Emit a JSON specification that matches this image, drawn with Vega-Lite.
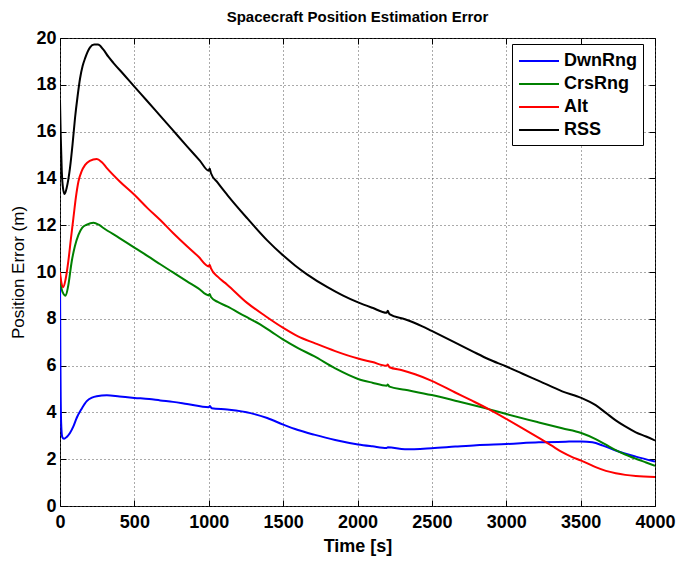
{
  "$schema": "https://vega.github.io/schema/vega-lite/v6.json",
  "width": 595,
  "height": 468,
  "autosize": {"type": "none"},
  "padding": {"left": 60, "top": 38, "right": 23, "bottom": 57},
  "title": {"text": "Spacecraft Position Estimation Error", "font": "Liberation Sans", "fontSize": 15, "fontWeight": "bold", "color": "black", "anchor": "middle", "offset": 4},
  "config": {
    "view": {"stroke": "black", "strokeWidth": 1},
    "font": "Liberation Sans",
    "axis": {
      "domainColor": "black", "tickColor": "black", "labelColor": "black", "titleColor": "black",
      "labelFont": "Liberation Sans", "labelFontSize": 18, "labelFontWeight": "bold",
      "titleFont": "Liberation Sans", "labelFlush": false,
      "gridColor": "#555", "gridDash": [1, 3], "gridOpacity": 1, "gridWidth": 1,
      "tickSize": -6, "tickWidth": 1
    },
    "legend": {
      "orient": "none", "legendX": 452, "legendY": 6,
      "strokeColor": "black", "fillColor": "white", "padding": 6,
      "symbolType": "M-2,0H2", "symbolSize": 400, "symbolStrokeWidth": 2, "symbolOffset": 10,
      "labelFont": "Liberation Sans", "labelFontSize": 18, "labelFontWeight": "bold", "labelColor": "black",
      "labelOffset": 14, "rowPadding": 3, "offset": 0
    }
  },
  "data": {"values": [
    {"s":"DwnRng","t":0,"v":9.8},{"s":"DwnRng","t":3,"v":6.0},{"s":"DwnRng","t":8,"v":3.5},{"s":"DwnRng","t":15,"v":2.95},{"s":"DwnRng","t":27,"v":2.87},{"s":"DwnRng","t":45,"v":2.95},{"s":"DwnRng","t":67,"v":3.12},{"s":"DwnRng","t":90,"v":3.4},{"s":"DwnRng","t":112,"v":3.76},{"s":"DwnRng","t":145,"v":4.15},{"s":"DwnRng","t":180,"v":4.48},{"s":"DwnRng","t":215,"v":4.63},{"s":"DwnRng","t":247,"v":4.69},{"s":"DwnRng","t":315,"v":4.73},{"s":"DwnRng","t":400,"v":4.68},{"s":"DwnRng","t":500,"v":4.62},{"s":"DwnRng","t":600,"v":4.57},{"s":"DwnRng","t":674,"v":4.51},{"s":"DwnRng","t":760,"v":4.45},{"s":"DwnRng","t":854,"v":4.36},{"s":"DwnRng","t":1000,"v":4.22},{"s":"DwnRng","t":1008,"v":4.27},{"s":"DwnRng","t":1020,"v":4.18},{"s":"DwnRng","t":1124,"v":4.12},{"s":"DwnRng","t":1281,"v":3.97},{"s":"DwnRng","t":1393,"v":3.76},{"s":"DwnRng","t":1501,"v":3.48},{"s":"DwnRng","t":1600,"v":3.25},{"s":"DwnRng","t":1708,"v":3.05},{"s":"DwnRng","t":1850,"v":2.82},{"s":"DwnRng","t":2004,"v":2.63},{"s":"DwnRng","t":2100,"v":2.55},{"s":"DwnRng","t":2196,"v":2.48},{"s":"DwnRng","t":2204,"v":2.51},{"s":"DwnRng","t":2319,"v":2.42},{"s":"DwnRng","t":2499,"v":2.47},{"s":"DwnRng","t":2657,"v":2.54},{"s":"DwnRng","t":2800,"v":2.6},{"s":"DwnRng","t":3001,"v":2.65},{"s":"DwnRng","t":3219,"v":2.72},{"s":"DwnRng","t":3400,"v":2.75},{"s":"DwnRng","t":3504,"v":2.76},{"s":"DwnRng","t":3579,"v":2.72},{"s":"DwnRng","t":3650,"v":2.58},{"s":"DwnRng","t":3736,"v":2.37},{"s":"DwnRng","t":3871,"v":2.11},{"s":"DwnRng","t":4000,"v":1.9},
    {"s":"CrsRng","t":0,"v":9.8},{"s":"CrsRng","t":10,"v":9.3},{"s":"CrsRng","t":25,"v":9.05},{"s":"CrsRng","t":38,"v":8.99},{"s":"CrsRng","t":55,"v":9.4},{"s":"CrsRng","t":79,"v":10.46},{"s":"CrsRng","t":100,"v":11.1},{"s":"CrsRng","t":124,"v":11.59},{"s":"CrsRng","t":150,"v":11.9},{"s":"CrsRng","t":180,"v":12.02},{"s":"CrsRng","t":225,"v":12.1},{"s":"CrsRng","t":260,"v":12.02},{"s":"CrsRng","t":292,"v":11.88},{"s":"CrsRng","t":400,"v":11.45},{"s":"CrsRng","t":500,"v":11.04},{"s":"CrsRng","t":590,"v":10.68},{"s":"CrsRng","t":674,"v":10.33},{"s":"CrsRng","t":760,"v":9.98},{"s":"CrsRng","t":854,"v":9.6},{"s":"CrsRng","t":930,"v":9.3},{"s":"CrsRng","t":1000,"v":9.0},{"s":"CrsRng","t":1006,"v":9.06},{"s":"CrsRng","t":1015,"v":8.93},{"s":"CrsRng","t":1060,"v":8.72},{"s":"CrsRng","t":1124,"v":8.53},{"s":"CrsRng","t":1240,"v":8.12},{"s":"CrsRng","t":1348,"v":7.75},{"s":"CrsRng","t":1420,"v":7.45},{"s":"CrsRng","t":1501,"v":7.11},{"s":"CrsRng","t":1600,"v":6.75},{"s":"CrsRng","t":1708,"v":6.4},{"s":"CrsRng","t":1850,"v":5.88},{"s":"CrsRng","t":2004,"v":5.43},{"s":"CrsRng","t":2100,"v":5.27},{"s":"CrsRng","t":2196,"v":5.14},{"s":"CrsRng","t":2203,"v":5.19},{"s":"CrsRng","t":2215,"v":5.1},{"s":"CrsRng","t":2319,"v":4.97},{"s":"CrsRng","t":2499,"v":4.74},{"s":"CrsRng","t":2657,"v":4.5},{"s":"CrsRng","t":2882,"v":4.14},{"s":"CrsRng","t":3001,"v":3.93},{"s":"CrsRng","t":3219,"v":3.57},{"s":"CrsRng","t":3376,"v":3.32},{"s":"CrsRng","t":3504,"v":3.12},{"s":"CrsRng","t":3601,"v":2.86},{"s":"CrsRng","t":3670,"v":2.62},{"s":"CrsRng","t":3736,"v":2.39},{"s":"CrsRng","t":3800,"v":2.2},{"s":"CrsRng","t":3871,"v":2.02},{"s":"CrsRng","t":3940,"v":1.86},{"s":"CrsRng","t":4000,"v":1.72},
    {"s":"Alt","t":0,"v":10.0},{"s":"Alt","t":8,"v":9.6},{"s":"Alt","t":22,"v":9.35},{"s":"Alt","t":38,"v":9.7},{"s":"Alt","t":56,"v":10.46},{"s":"Alt","t":73,"v":11.4},{"s":"Alt","t":90,"v":12.3},{"s":"Alt","t":107,"v":13.2},{"s":"Alt","t":124,"v":13.87},{"s":"Alt","t":145,"v":14.3},{"s":"Alt","t":169,"v":14.58},{"s":"Alt","t":200,"v":14.75},{"s":"Alt","t":247,"v":14.83},{"s":"Alt","t":280,"v":14.7},{"s":"Alt","t":315,"v":14.44},{"s":"Alt","t":400,"v":13.88},{"s":"Alt","t":500,"v":13.3},{"s":"Alt","t":590,"v":12.72},{"s":"Alt","t":674,"v":12.22},{"s":"Alt","t":760,"v":11.67},{"s":"Alt","t":854,"v":11.1},{"s":"Alt","t":930,"v":10.66},{"s":"Alt","t":1000,"v":10.24},{"s":"Alt","t":1006,"v":10.31},{"s":"Alt","t":1015,"v":10.15},{"s":"Alt","t":1060,"v":9.8},{"s":"Alt","t":1124,"v":9.46},{"s":"Alt","t":1258,"v":8.68},{"s":"Alt","t":1380,"v":8.12},{"s":"Alt","t":1501,"v":7.61},{"s":"Alt","t":1600,"v":7.25},{"s":"Alt","t":1708,"v":6.97},{"s":"Alt","t":1850,"v":6.62},{"s":"Alt","t":2004,"v":6.3},{"s":"Alt","t":2100,"v":6.15},{"s":"Alt","t":2196,"v":5.99},{"s":"Alt","t":2203,"v":6.05},{"s":"Alt","t":2215,"v":5.93},{"s":"Alt","t":2300,"v":5.8},{"s":"Alt","t":2387,"v":5.63},{"s":"Alt","t":2499,"v":5.35},{"s":"Alt","t":2657,"v":4.85},{"s":"Alt","t":2770,"v":4.5},{"s":"Alt","t":2882,"v":4.14},{"s":"Alt","t":3001,"v":3.72},{"s":"Alt","t":3110,"v":3.32},{"s":"Alt","t":3219,"v":2.91},{"s":"Alt","t":3300,"v":2.6},{"s":"Alt","t":3376,"v":2.3},{"s":"Alt","t":3440,"v":2.1},{"s":"Alt","t":3504,"v":1.94},{"s":"Alt","t":3601,"v":1.66},{"s":"Alt","t":3670,"v":1.5},{"s":"Alt","t":3736,"v":1.4},{"s":"Alt","t":3800,"v":1.33},{"s":"Alt","t":3871,"v":1.28},{"s":"Alt","t":4000,"v":1.24},
    {"s":"RSS","t":0,"v":17.3},{"s":"RSS","t":5,"v":15.8},{"s":"RSS","t":12,"v":14.3},{"s":"RSS","t":20,"v":13.6},{"s":"RSS","t":31,"v":13.33},{"s":"RSS","t":45,"v":13.6},{"s":"RSS","t":67,"v":14.44},{"s":"RSS","t":85,"v":15.5},{"s":"RSS","t":101,"v":16.58},{"s":"RSS","t":118,"v":17.5},{"s":"RSS","t":135,"v":18.28},{"s":"RSS","t":152,"v":18.8},{"s":"RSS","t":169,"v":19.14},{"s":"RSS","t":202,"v":19.6},{"s":"RSS","t":230,"v":19.72},{"s":"RSS","t":255,"v":19.72},{"s":"RSS","t":292,"v":19.5},{"s":"RSS","t":325,"v":19.2},{"s":"RSS","t":360,"v":18.93},{"s":"RSS","t":430,"v":18.43},{"s":"RSS","t":500,"v":17.92},{"s":"RSS","t":580,"v":17.35},{"s":"RSS","t":674,"v":16.67},{"s":"RSS","t":760,"v":16.05},{"s":"RSS","t":854,"v":15.37},{"s":"RSS","t":940,"v":14.76},{"s":"RSS","t":1000,"v":14.33},{"s":"RSS","t":1006,"v":14.42},{"s":"RSS","t":1015,"v":14.22},{"s":"RSS","t":1060,"v":13.82},{"s":"RSS","t":1124,"v":13.3},{"s":"RSS","t":1258,"v":12.3},{"s":"RSS","t":1393,"v":11.35},{"s":"RSS","t":1501,"v":10.7},{"s":"RSS","t":1580,"v":10.28},{"s":"RSS","t":1663,"v":9.89},{"s":"RSS","t":1798,"v":9.35},{"s":"RSS","t":1900,"v":9.0},{"s":"RSS","t":2004,"v":8.7},{"s":"RSS","t":2100,"v":8.47},{"s":"RSS","t":2196,"v":8.26},{"s":"RSS","t":2203,"v":8.34},{"s":"RSS","t":2215,"v":8.2},{"s":"RSS","t":2319,"v":7.98},{"s":"RSS","t":2432,"v":7.69},{"s":"RSS","t":2499,"v":7.48},{"s":"RSS","t":2657,"v":6.98},{"s":"RSS","t":2770,"v":6.62},{"s":"RSS","t":2882,"v":6.27},{"s":"RSS","t":3001,"v":5.96},{"s":"RSS","t":3110,"v":5.65},{"s":"RSS","t":3219,"v":5.35},{"s":"RSS","t":3376,"v":4.9},{"s":"RSS","t":3504,"v":4.62},{"s":"RSS","t":3601,"v":4.31},{"s":"RSS","t":3670,"v":3.98},{"s":"RSS","t":3736,"v":3.66},{"s":"RSS","t":3800,"v":3.4},{"s":"RSS","t":3871,"v":3.15},{"s":"RSS","t":3940,"v":2.97},{"s":"RSS","t":4000,"v":2.8}
  ]},
  "layer": [
    {
      "mark": {"type": "line", "clip": true, "interpolate": "monotone"},
      "encoding": {
        "x": {"field": "t", "type": "quantitative", "scale": {"domain": [0, 4000], "nice": false},
              "axis": {"values": [0,500,1000,1500,2000,2500,3000,3500,4000], "format": "d", "title": "Time [s]", "titleFontSize": 18, "titleFontWeight": "bold", "titlePadding": 6, "labelPadding": 13, "grid": true, "domain": false}},
        "y": {"field": "v", "type": "quantitative", "scale": {"domain": [0, 20], "nice": false},
              "axis": {"values": [0,2,4,6,8,10,12,14,16,18,20], "format": "d", "title": "Position Error (m)", "titleFontSize": 17, "titleFontWeight": "normal", "titlePadding": 8, "labelPadding": 10, "grid": true, "domain": false}},
        "color": {"field": "s", "type": "nominal", "title": null,
                  "scale": {"domain": ["DwnRng", "CrsRng", "Alt", "RSS"], "range": ["#0000ff", "#008000", "#ff0000", "#000000"]}},
        "strokeWidth": {"field": "s", "type": "nominal", "title": null,
                  "scale": {"domain": ["DwnRng", "CrsRng", "Alt", "RSS"], "range": [2, 2, 2, 3]}}
      }
    },
    {
      "mark": {"type": "line", "strokeOpacity": 0},
      "encoding": {
        "x": {"field": "t", "type": "quantitative", "axis": {"orient": "top", "values": [0,500,1000,1500,2000,2500,3000,3500,4000], "labels": false, "title": null, "grid": false, "domain": false}},
        "y": {"field": "v", "type": "quantitative", "axis": {"orient": "right", "values": [0,2,4,6,8,10,12,14,16,18,20], "labels": false, "title": null, "grid": false, "domain": false}}
      }
    }
  ],
  "resolve": {"axis": {"x": "independent", "y": "independent"}}
}
